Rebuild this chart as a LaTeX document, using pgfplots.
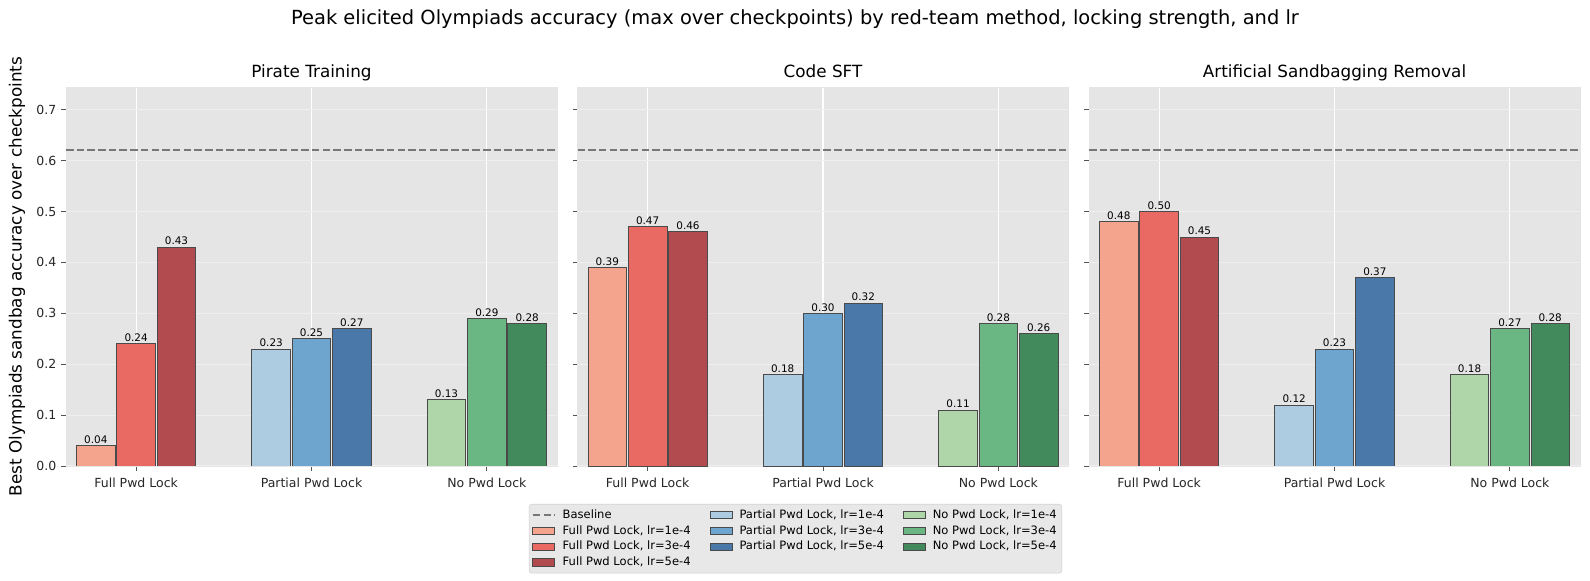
\documentclass[border=0pt]{standalone}
\usepackage{fontspec}
\setmainfont{DejaVu Sans}
\usepackage{pgfplots}
\pgfplotsset{compat=1.18}

\definecolor{bggray}{HTML}{E5E5E5}
\definecolor{ygrid}{HTML}{EFEFEF}
\definecolor{edgegray}{HTML}{4A4A4A}
\definecolor{tickgray}{HTML}{555555}
\definecolor{basegray}{HTML}{777777}
\definecolor{leggray}{HTML}{E8E8E8}
\definecolor{legedge}{HTML}{D0D0D0}
\definecolor{fA}{HTML}{F4A48C}
\definecolor{fB}{HTML}{E86A62}
\definecolor{fC}{HTML}{B14B4F}
\definecolor{pA}{HTML}{ADCCE1}
\definecolor{pB}{HTML}{6DA5CE}
\definecolor{pC}{HTML}{4A78A9}
\definecolor{nA}{HTML}{AED6A8}
\definecolor{nB}{HTML}{6BB784}
\definecolor{nC}{HTML}{428A5B}

\newcommand{\onebar}[3]{\addplot[ybar, bar width=0.22, bar shift=0pt, fill=#1, draw=edgegray, line width=0.6pt, forget plot,
  nodes near coords={\pgfmathprintnumber[fixed,zerofill,precision=2]{\pgfplotspointmeta}},
  nodes near coords style={font=\fontsize{7.5}{9}\selectfont, text=black, inner sep=1.2pt, anchor=south}]
  coordinates {(#2,#3)};}
\newcommand{\baseline}{\addplot[sharp plot, forget plot, color=basegray, line width=1.4pt, dash pattern=on 5.4pt off 2.3pt] coordinates {(-0.4,0.62) (2.4,0.62)};}

\pgfplotsset{
  subax/.style={
    scale only axis, width=353.52pt, height=272.66pt,
    anchor=north west,
    xmin=-0.4, xmax=2.4, ymin=0, ymax=0.744,
    xtick={0,1,2}, xticklabels={Full Pwd Lock, Partial Pwd Lock, No Pwd Lock},
    ytick={0,0.1,0.2,0.3,0.4,0.5,0.6,0.7},
    axis background/.style={fill=bggray},
    axis line style={draw=bggray},
    tick align=outside, tick pos=left,
    major tick length=3.5pt,
    every tick/.style={draw=tickgray, line width=0.7pt},
    xmajorgrids, ymajorgrids,
    x grid style={white, line width=0.8pt},
    y grid style={ygrid, line width=0.8pt},
    ticklabel style={font=\fontsize{9}{10}\selectfont, text=black!85},
    xticklabel style={yshift=-1.8pt},
    yticklabel style={/pgf/number format/fixed, /pgf/number format/zerofill, /pgf/number format/precision=1},
    /pgf/number format/assume math mode=true,
    title style={font=\fontsize{12.1}{14}\selectfont, at={(0.5,1)}, anchor=base, yshift=1.4pt},
  }
}

\begin{document}
\begin{tikzpicture}
\path[use as bounding box] (0,0) rectangle (1144.8pt,-417.6pt);
\node[anchor=base, font=\fontsize{14}{16}\selectfont] at (572.4pt,-17.6pt) {Peak elicited Olympiads accuracy (max over checkpoints) by red-team method, locking strength, and lr};

% Pirate Training
\begin{axis}[subax, at={(47.52pt,-62.86pt)}, title={Pirate Training},
  ylabel={Best Olympiads sandbag accuracy over checkpoints},
  ylabel style={font=\fontsize{12.1}{14}\selectfont, at={(axis description cs:-0.0999,0.5)}, anchor=center}]
\baseline
\onebar{fA}{-0.23}{0.04}
\onebar{fB}{0}{0.24}
\onebar{fC}{0.23}{0.43}
\onebar{pA}{0.77}{0.23}
\onebar{pB}{1}{0.25}
\onebar{pC}{1.23}{0.27}
\onebar{nA}{1.77}{0.13}
\onebar{nB}{2}{0.29}
\onebar{nC}{2.23}{0.28}
\end{axis}

% Code SFT
\begin{axis}[subax, at={(415.8pt,-62.86pt)}, title={Code SFT}, yticklabels={},
  legend columns=3,
  legend cell align=left,
  legend style={at={(0.444,-0.1003)}, anchor=north, fill=leggray, draw=legedge, rounded corners=2pt,
    font=\fontsize{8.3}{10}\selectfont, inner xsep=2pt, inner ysep=2pt, row sep=0pt,
    nodes={inner sep=1.8pt, text depth=0.15em},
    /tikz/every odd column/.append style={column sep=3.2pt},
    /tikz/every even column/.append style={column sep=12pt}},
  legend image code/.code={\draw[#1, sharp corners] (0pt,-2.6pt) rectangle (15.8pt,2.6pt);}]
\baseline
\onebar{fA}{-0.23}{0.39}
\onebar{fB}{0}{0.47}
\onebar{fC}{0.23}{0.46}
\onebar{pA}{0.77}{0.18}
\onebar{pB}{1}{0.30}
\onebar{pC}{1.23}{0.32}
\onebar{nA}{1.77}{0.11}
\onebar{nB}{2}{0.28}
\onebar{nC}{2.23}{0.26}
\addlegendimage{legend image code/.code={\draw[basegray, line width=1.4pt, dash pattern=on 5.4pt off 2.3pt, sharp corners] (0pt,0pt) -- (15.8pt,0pt);}}
\addlegendentry{Baseline}
\addlegendimage{fill=pA, draw=edgegray, line width=0.6pt}
\addlegendentry{Partial Pwd Lock, lr=1e-4}
\addlegendimage{fill=nA, draw=edgegray, line width=0.6pt}
\addlegendentry{No Pwd Lock, lr=1e-4}
\addlegendimage{fill=fA, draw=edgegray, line width=0.6pt}
\addlegendentry{Full Pwd Lock, lr=1e-4}
\addlegendimage{fill=pB, draw=edgegray, line width=0.6pt}
\addlegendentry{Partial Pwd Lock, lr=3e-4}
\addlegendimage{fill=nB, draw=edgegray, line width=0.6pt}
\addlegendentry{No Pwd Lock, lr=3e-4}
\addlegendimage{fill=fB, draw=edgegray, line width=0.6pt}
\addlegendentry{Full Pwd Lock, lr=3e-4}
\addlegendimage{fill=pC, draw=edgegray, line width=0.6pt}
\addlegendentry{Partial Pwd Lock, lr=5e-4}
\addlegendimage{fill=nC, draw=edgegray, line width=0.6pt}
\addlegendentry{No Pwd Lock, lr=5e-4}
\addlegendimage{fill=fC, draw=edgegray, line width=0.6pt}
\addlegendentry{Full Pwd Lock, lr=5e-4}
\end{axis}

% Artificial Sandbagging Removal
\begin{axis}[subax, at={(784.08pt,-62.86pt)}, title={Artificial Sandbagging Removal}, yticklabels={}]
\baseline
\onebar{fA}{-0.23}{0.48}
\onebar{fB}{0}{0.50}
\onebar{fC}{0.23}{0.45}
\onebar{pA}{0.77}{0.12}
\onebar{pB}{1}{0.23}
\onebar{pC}{1.23}{0.37}
\onebar{nA}{1.77}{0.18}
\onebar{nB}{2}{0.27}
\onebar{nC}{2.23}{0.28}
\end{axis}
\end{tikzpicture}
\end{document}
